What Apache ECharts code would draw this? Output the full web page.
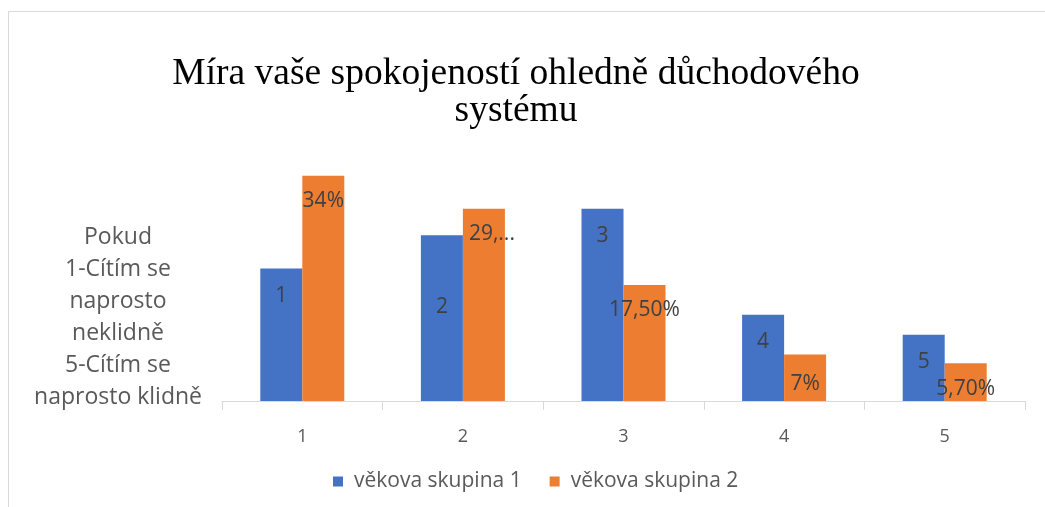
<!DOCTYPE html>
<html>
<head>
<meta charset="utf-8">
<script src="https://cdn.jsdelivr.net/npm/echarts@6/dist/echarts.min.js"></script>
<style>
  html, body { margin: 0; padding: 0; background: #fff; }
  #wrap { position: relative; width: 1045px; height: 507px; }
  #frame { position: absolute; left: 8px; top: 11px; width: 1100px; height: 600px;
           border-top: 1px solid #d9d9d9; border-left: 1px solid #d9d9d9; pointer-events: none; }
  #chart { width: 1045px; height: 507px; }
</style>
</head>
<body>
<div id="wrap">
  <div id="chart"></div>
  <div id="frame"></div>
</div>
<script>
// data
var categories = ['1', '2', '3', '4', '5'];
var group1 = [20, 25, 29, 13, 10];
var group2 = [34, 29, 17.5, 7, 5.7];
var group1Labels = ['1', '2', '3', '4', '5'];
var group2Labels = ['34%', '29,...', '17,50%', '7%', '5,70%'];
var seriesNames = ['věkova skupina 1', 'věkova skupina 2'];

var sans = '"Open Sans", sans-serif';

var chart = echarts.init(document.getElementById('chart'));

function labelData(values, labels, tweak) {
  return values.map(function (v, i) {
    var item = { value: v, label: { formatter: labels[i] } };
    if (tweak && tweak[i]) item.label.offset = tweak[i];
    return item;
  });
}

chart.setOption({
  animation: false,
  title: {
    text: 'Míra vaše spokojeností ohledně důchodového\nsystému',
    left: 511,
    top: 51,
    textAlign: 'center',
    textStyle: {
      fontFamily: '"Liberation Serif", serif',
      fontWeight: 'normal',
      fontSize: 37.5,
      lineHeight: 37,
      color: '#000'
    }
  },
  legend: {
    data: seriesNames,
    left: 328,
    top: 466,
    icon: 'rect',
    itemWidth: 10,
    itemHeight: 10,
    itemGap: 28,
    textStyle: { fontFamily: sans, fontSize: 21, color: '#595959', padding: [0, 0, 0, 6] }
  },
  graphic: [{
    type: 'text',
    x: 118,
    y: 221,
    style: {
      text: 'Pokud\n1-Cítím se\nnaprosto\nneklidně\n5-Cítím se\nnaprosto klidně',
      textAlign: 'center',
      font: '23px ' + sans,
      lineHeight: 32,
      fill: '#595959'
    }
  }],
  grid: { left: 222, right: 20, top: 169, bottom: 106 },
  xAxis: {
    type: 'category',
    data: categories,
    axisLine: { lineStyle: { color: '#d9d9d9', width: 1 } },
    axisTick: { show: true, length: 9, lineStyle: { color: '#d9d9d9' } },
    axisLabel: { fontFamily: sans, fontSize: 18, color: '#595959', margin: 27 }
  },
  yAxis: {
    type: 'value',
    min: 0,
    max: 35,
    show: false,
    splitLine: { show: false }
  },
  series: [{
    name: seriesNames[0],
    type: 'bar',
    barWidth: 42,
    barGap: '0%',
    itemStyle: { color: '#4472C4' },
    label: {
      show: true, position: 'insideTop', distance: 17,
      fontFamily: sans, fontSize: 21, color: '#404040'
    },
    data: labelData(group1, group1Labels, { 1: [0, 44] })
  }, {
    name: seriesNames[1],
    type: 'bar',
    barWidth: 42,
    barGap: '0%',
    itemStyle: { color: '#ED7D31' },
    label: {
      show: true, position: 'insideTop', distance: 15,
      fontFamily: sans, fontSize: 21, color: '#404040'
    },
    data: labelData(group2, group2Labels, { 1: [8, 0], 3: [0, 4] })
  }]
});
</script>
</body>
</html>
